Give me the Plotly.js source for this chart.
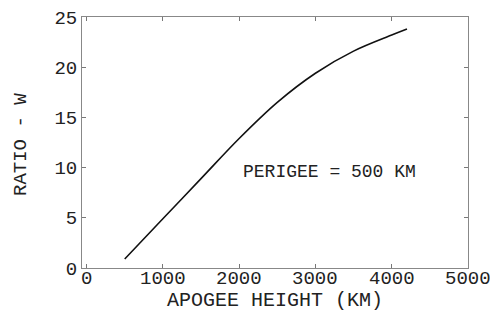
<!DOCTYPE html>
<html>
<head>
<meta charset="utf-8">
<script src="https://cdn.plot.ly/plotly-3.0.1.min.js"></script>
<style>html,body{margin:0;padding:0;background:#fff;}#chart{width:490px;height:327px;}</style>
</head>
<body>
<div id="chart"></div>
<script>
// Apogee height (km) vs ratio W, perigee = 500 km
const apogeeKm = [500, 1000, 1500, 2000, 2500, 3000, 3500, 4000, 4200];
const ratioW   = [0.9, 4.9, 8.9, 12.9, 16.5, 19.4, 21.6, 23.2, 23.8];
const xTicks = [0, 1000, 2000, 3000, 4000, 5000];
const xTickLabels = ['0', '1000', '2000', '3000', '4000', '5000'];
const yTicks = [0, 5, 10, 15, 20, 25];
const noteText = 'PERIGEE = 500 KM';
const xTitle = 'APOGEE HEIGHT (KM)';
const yTitle = 'RATIO - W';

const FONT = 'Liberation Mono, DejaVu Sans Mono, monospace';
const INK = '#222';

const trace = {
  x: apogeeKm, y: ratioW, type: 'scatter', mode: 'lines',
  line: {color: '#111', width: 1.6, shape: 'spline', smoothing: 1},
  hoverinfo: 'skip'
};

const xTickAnns = xTicks.map((v, i) => ({
  x: v, y: 0, xref: 'x', yref: 'paper', yshift: -11, text: xTickLabels[i],
  showarrow: false, xanchor: 'center', yanchor: 'middle',
  font: {family: FONT, size: 19, color: INK}
}));

const layout = {
  width: 490, height: 327,
  margin: {l: 82, r: 22, t: 17, b: 59},
  paper_bgcolor: '#fff', plot_bgcolor: '#fff',
  showlegend: false,
  font: {family: FONT, color: INK, size: 18},
  xaxis: {
    range: [-60, 5000], tickvals: xTicks, showticklabels: false,
    ticks: 'inside', ticklen: 4, tickcolor: '#777', tickwidth: 1,
    showline: true, linecolor: '#888', linewidth: 1, mirror: 'ticks',
    showgrid: false, zeroline: false
  },
  yaxis: {
    range: [0, 25], tickvals: yTicks, ticktext: yTicks.map(String),
    ticks: 'inside', ticklen: 4, tickcolor: '#777', tickwidth: 1,
    showline: true, linecolor: '#888', linewidth: 1, mirror: 'ticks',
    showgrid: false, zeroline: false,
    tickfont: {family: FONT, size: 19, color: INK}
  },
  annotations: [{
    x: 3178, y: 9.6, xref: 'x', yref: 'y', text: noteText, showarrow: false,
    font: {family: FONT, size: 18, color: INK}
  }, {
    x: 0, y: 0.49, xref: 'paper', yref: 'paper', xshift: -61, text: yTitle,
    textangle: -90, showarrow: false, xanchor: 'center', yanchor: 'middle',
    font: {family: FONT, size: 19, color: INK}
  }, {
    x: 0.5, y: -0.1275, xref: 'paper', yref: 'paper', text: xTitle,
    showarrow: false, xanchor: 'center', yanchor: 'middle',
    font: {family: FONT, size: 20, color: INK}
  }].concat(xTickAnns)
};

Plotly.newPlot('chart', [trace], layout, {staticPlot: true, displayModeBar: false});
</script>
</body>
</html>
